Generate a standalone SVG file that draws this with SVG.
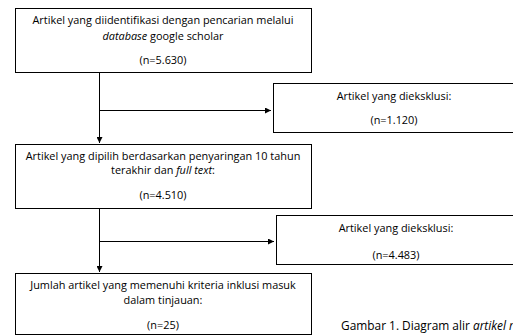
<svg xmlns="http://www.w3.org/2000/svg" width="513" height="336" viewBox="0 0 513 336">
<defs>
<marker id="ah" markerWidth="6" markerHeight="6" refX="6" refY="3" orient="auto" markerUnits="userSpaceOnUse">
<path d="M0,0 L6,3 L0,6 Z" fill="#000"/>
</marker>
<style>
.box{fill:#fff;stroke:#000;stroke-width:1}
.t{font-family:"Open Sans","Noto Sans",sans-serif;font-size:10.9px;fill:#000;text-anchor:middle}
.c{font-family:"Open Sans","Noto Sans",sans-serif;font-size:11.9px;fill:#000}
.ln{fill:none;stroke:#000;stroke-width:1}
</style>
</defs>
<rect width="513" height="336" fill="#fff"/>
<g id="connectors">
<path class="ln" d="M99.5,72 V143" marker-end="url(#ah)"/>
<path class="ln" d="M99.5,110.5 H271" marker-end="url(#ah)"/>
<path class="ln" d="M99.5,208 V272" marker-end="url(#ah)"/>
<path class="ln" d="M99.5,241.5 H274" marker-end="url(#ah)"/>
</g>
<g id="n1">
<rect class="box" x="15.5" y="8.5" width="296" height="64"/>
<text class="t" x="163" y="24">Artikel yang diidentifikasi dengan pencarian melalui</text>
<text class="t" x="163" y="40"><tspan font-style="italic">database</tspan> google scholar</text>
<text class="t" x="163" y="64">(n=5.630)</text>
</g>
<g id="n2">
<rect class="box" x="273.5" y="83.5" width="242" height="49"/>
<text class="t" x="394" y="99.5">Artikel yang dieksklusi:</text>
<text class="t" x="394" y="124">(n=1.120)</text>
</g>
<g id="n3">
<rect class="box" x="15.5" y="144.5" width="296" height="64"/>
<text class="t" x="163" y="160">Artikel yang dipilih berdasarkan penyaringan 10 tahun</text>
<text class="t" x="163" y="174">terakhir dan <tspan font-style="italic">full text</tspan>:</text>
<text class="t" x="163" y="199">(n=4.510)</text>
</g>
<g id="n4">
<rect class="box" x="276.5" y="215.5" width="240" height="49"/>
<text class="t" x="396" y="231.5">Artikel yang dieksklusi:</text>
<text class="t" x="396" y="258.5">(n=4.483)</text>
</g>
<g id="n5">
<rect class="box" x="15.5" y="273.5" width="296" height="61"/>
<text class="t" x="163" y="288.5">Jumlah artikel yang memenuhi kriteria inklusi masuk</text>
<text class="t" x="163" y="303.5">dalam tinjauan:</text>
<text class="t" x="163" y="328.5">(n=25)</text>
</g>
<text class="c" x="341" y="330">Gambar 1. Diagram alir <tspan font-style="italic">artikel r</tspan></text>
</svg>
